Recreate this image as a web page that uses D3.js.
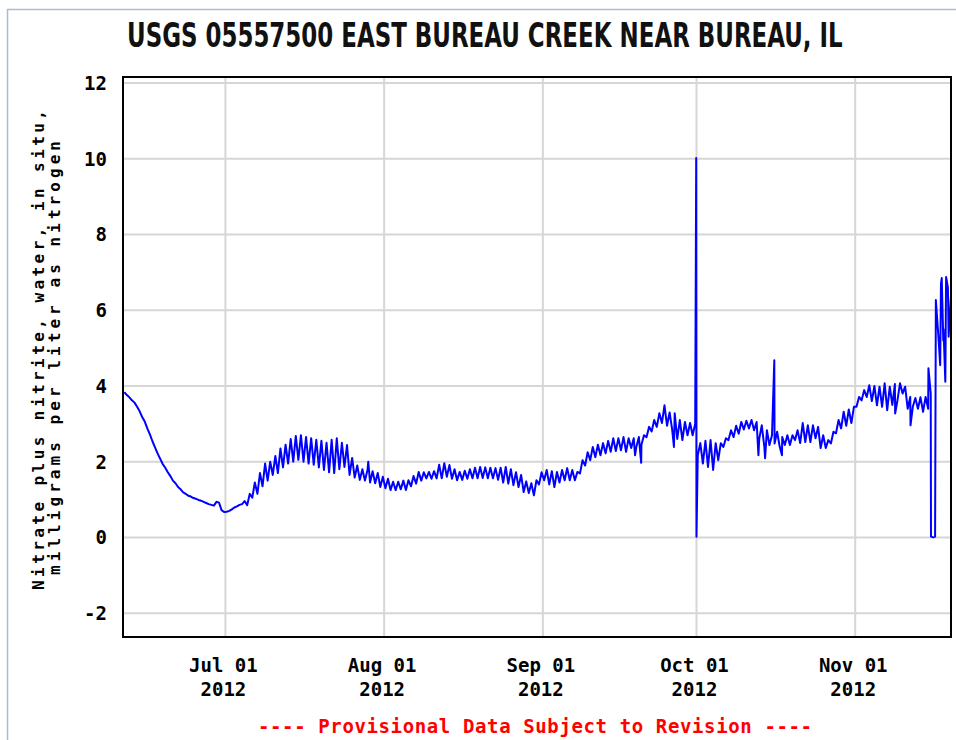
<!DOCTYPE html>
<html>
<head>
<meta charset="utf-8">
<script src="https://cdn.jsdelivr.net/npm/d3@7"></script>
<style>
  body { margin: 0; background: #fff; }
  svg { display: block; }
</style>
</head>
<body>
<script>
// series starts 2012-06-11, two readings per day (morning, evening)
const startDay = "2012-06-11";
const endTime = "2012-11-19T17:00:00Z";

const readingAM = [
  3.84, 3.70, 3.56, 3.33, 3.06, 2.72, 2.38, 2.08, 1.84, 1.62,
  1.43, 1.27, 1.15, 1.08, 1.02, 0.97, 0.91, 0.86, 0.94, 0.72,
  0.68, 0.74, 0.82, 0.88, 0.85, 1.05, 1.15, 1.35, 1.50, 1.65,
  1.70, 1.85, 1.95, 2.00, 2.05, 2.00, 1.95, 1.92, 1.85, 1.78,
  1.72, 1.70, 1.80, 1.86, 1.65, 1.58, 1.52, 1.50, 1.45, 1.43,
  1.33, 1.30, 1.25, 1.25, 1.27, 1.25, 1.35, 1.42, 1.50, 1.56,
  1.55, 1.56, 1.56, 1.60, 1.55, 1.51, 1.52, 1.55, 1.56, 1.56,
  1.57, 1.56, 1.56, 1.52, 1.45, 1.42, 1.38, 1.33, 1.20, 1.17,
  1.11, 1.40, 1.51, 1.40, 1.33, 1.45, 1.51, 1.51, 1.51, 1.69,
  1.90, 2.04, 2.12, 2.17, 2.22, 2.26, 2.28, 2.30, 2.26, 2.36,
  2.39, 2.45, 2.65, 2.80, 2.92, 3.02, 2.95, 2.85, 2.60, 2.57,
  2.70, 2.70, 2.17, 1.95, 1.86, 1.78, 2.04, 2.39, 2.57, 2.65,
  2.74, 2.85, 2.88, 2.83, 2.60, 2.40, 2.44, 2.48, 2.40, 2.44,
  2.44, 2.57, 2.49, 2.52, 2.52, 2.62, 2.36, 2.36, 2.48, 2.75,
  2.88, 2.95, 3.02, 3.45, 3.62, 3.71, 3.60, 3.49, 3.45, 3.36,
  3.50, 3.62, 3.80, 3.40, 3.45, 3.40, 3.32, 3.40, 0.00, 5.30,
  5.50, 5.30
];

const readingPM = [
  3.76, 3.62, 3.45, 3.18, 2.88, 2.54, 2.22, 1.94, 1.72, 1.50,
  1.33, 1.19, 1.10, 1.04, 0.99, 0.94, 0.88, 0.84, 0.92, 0.67,
  0.70, 0.79, 0.86, 0.96, 1.15, 1.45, 1.70, 1.95, 2.00, 2.15,
  2.35, 2.45, 2.60, 2.68, 2.70, 2.65, 2.62, 2.58, 2.55, 2.50,
  2.58, 2.62, 2.50, 2.44, 2.10, 1.90, 1.80, 1.78, 1.75, 1.70,
  1.60, 1.55, 1.47, 1.47, 1.50, 1.51, 1.62, 1.73, 1.72, 1.73,
  1.75, 1.92, 1.96, 1.91, 1.80, 1.73, 1.76, 1.80, 1.84, 1.86,
  1.85, 1.84, 1.83, 1.84, 1.86, 1.80, 1.72, 1.65, 1.48, 1.43,
  1.51, 1.72, 1.78, 1.75, 1.73, 1.78, 1.83, 1.78, 1.73, 2.04,
  2.25, 2.39, 2.45, 2.49, 2.55, 2.62, 2.62, 2.65, 2.62, 2.62,
  2.65, 2.70, 2.92, 3.10, 3.28, 3.49, 3.30, 3.28, 3.10, 3.05,
  3.02, 3.00, 2.49, 2.55, 2.57, 2.49, 2.49, 2.62, 2.83, 2.95,
  3.05, 3.08, 3.10, 3.05, 2.96, 2.83, 2.70, 2.79, 2.65, 2.70,
  2.70, 2.83, 3.02, 2.96, 2.96, 2.92, 2.70, 2.57, 2.79, 3.10,
  3.32, 3.38, 3.45, 3.71, 3.89, 4.02, 4.00, 3.98, 4.07, 3.98,
  4.05, 4.07, 3.98, 3.71, 3.68, 3.70, 3.71, 3.80, 6.27, 6.70,
  6.88, 6.50
];

// single readings off the daily pattern: [days after start, value]
const spikes = [
  [47.9, 2.00], [100.0, 2.17], [101.2, 1.97], [107.6, 2.39],
  [111.95, 10.02], [112.0, 0.02], [124.1, 2.17], [125.4, 2.09],
  [127.2, 4.68], [128.7, 2.17], [150.8, 3.27], [153.8, 2.96],
  [157.3, 4.47], [157.8, 0.02], [158.6, 0.02], [159.6, 4.55],
  [159.9, 6.85], [160.2, 5.20], [160.6, 4.11], [161.1, 6.60]
];

const yTicks = [-2, 0, 2, 4, 6, 8, 10, 12];
const xTickDates = ["2012-07-01", "2012-08-01", "2012-09-01", "2012-10-01", "2012-11-01"];
const xTickLabels = ["Jul 01", "Aug 01", "Sep 01", "Oct 01", "Nov 01"];

const title = "USGS 05557500 EAST BUREAU CREEK NEAR BUREAU, IL";
const yLabel = ["Nitrate plus nitrite, water, in situ,", "milligrams per liter as nitrogen"];
const note = "---- Provisional Data Subject to Revision ----";

const width = 956, height = 740;
const plot = {left: 123, top: 77, right: 951, bottom: 637};
const mono = "'DejaVu Sans Mono', 'Liberation Mono', monospace";

const t0 = new Date(startDay + "T00:00:00Z").getTime();
const day = 864e5;

let points = [];
readingAM.forEach((am, i) => {
  points.push({t: i + 0.25, v: am});
  points.push({t: i + 0.75, v: readingPM[i]});
});
spikes.forEach(s => points.push({t: s[0], v: s[1]}));
points.sort((a, b) => a.t - b.t);
points = points.map(p => ({date: new Date(t0 + p.t * day), v: p.v}));

const x = d3.scaleUtc()
  .domain([new Date(t0), new Date(endTime)])
  .range([plot.left, plot.right]);

const y = d3.scaleLinear()
  .domain([-2.63, 12.16])
  .range([plot.bottom, plot.top]);

const svg = d3.select("body").append("svg")
  .attr("width", width)
  .attr("height", height);

// outer border of the image
svg.append("path")
  .attr("d", `M7.5,${height}V9.5H${width}`)
  .attr("fill", "none")
  .attr("stroke", "#a9bcd2")
  .attr("stroke-width", 1.5);

// title, squeezed to the reference width
const titleText = svg.append("text")
  .attr("y", 47)
  .style("font-family", "'Liberation Sans Narrow', 'DejaVu Sans Condensed', 'Arial Narrow', sans-serif")
  .style("font-stretch", "condensed")
  .style("font-weight", "bold")
  .style("font-size", "34px")
  .attr("fill", "#111")
  .text(title);
const tw = titleText.node().getComputedTextLength();
titleText.attr("transform", `translate(127,0) scale(${716 / tw},1)`);

svg.append("defs").append("clipPath").attr("id", "clip")
  .append("rect")
  .attr("x", plot.left).attr("y", plot.top)
  .attr("width", plot.right - plot.left).attr("height", plot.bottom - plot.top);

// grid
const xDates = xTickDates.map(d => new Date(d + "T00:00:00Z"));
svg.append("g")
  .selectAll("line")
  .data(yTicks)
  .join("line")
  .attr("x1", plot.left).attr("x2", plot.right)
  .attr("y1", d => y(d)).attr("y2", d => y(d))
  .attr("stroke", "#d6d6d6")
  .attr("stroke-width", 2);

svg.append("g")
  .selectAll("line")
  .data(xDates)
  .join("line")
  .attr("x1", d => x(d)).attr("x2", d => x(d))
  .attr("y1", plot.top).attr("y2", plot.bottom)
  .attr("stroke", "#d6d6d6")
  .attr("stroke-width", 2);

// data
const line = d3.line()
  .x(d => x(d.date))
  .y(d => y(d.v));

svg.append("path")
  .datum(points)
  .attr("clip-path", "url(#clip)")
  .attr("fill", "none")
  .attr("stroke", "#0000ff")
  .attr("stroke-width", 2)
  .attr("stroke-linejoin", "round")
  .attr("d", line);

svg.append("rect")
  .attr("x", plot.left).attr("y", plot.top)
  .attr("width", plot.right - plot.left).attr("height", plot.bottom - plot.top)
  .attr("fill", "none")
  .attr("stroke", "#000")
  .attr("stroke-width", 2);

// y tick labels
svg.append("g")
  .selectAll("text")
  .data(yTicks)
  .join("text")
  .attr("x", 107)
  .attr("y", d => y(d))
  .attr("dy", "0.36em")
  .attr("text-anchor", "end")
  .style("font-family", mono)
  .style("font-weight", "bold")
  .style("font-size", "19px")
  .text(d => d);

// x tick labels, two lines
const xl = svg.append("g")
  .selectAll("text")
  .data(xDates)
  .join("text")
  .attr("text-anchor", "middle")
  .style("font-family", mono)
  .style("font-weight", "bold")
  .style("font-size", "19px");
xl.append("tspan")
  .attr("x", d => x(d) - 2)
  .attr("y", 672)
  .text((d, i) => xTickLabels[i]);
xl.append("tspan")
  .attr("x", d => x(d) - 2)
  .attr("y", 696)
  .text(d => d3.utcFormat("%Y")(d));

// y axis title
svg.append("text")
  .attr("transform", "translate(44,350) rotate(-90)")
  .attr("text-anchor", "middle")
  .attr("textLength", 480)
  .attr("lengthAdjust", "spacing")
  .style("font-family", mono)
  .style("font-weight", "bold")
  .style("font-size", "16px")
  .text(yLabel[0]);

svg.append("text")
  .attr("transform", "translate(60,358) rotate(-90)")
  .attr("text-anchor", "middle")
  .attr("textLength", 434)
  .attr("lengthAdjust", "spacing")
  .style("font-family", mono)
  .style("font-weight", "bold")
  .style("font-size", "16px")
  .text(yLabel[1]);

svg.append("text")
  .attr("x", 535)
  .attr("y", 733)
  .attr("text-anchor", "middle")
  .attr("textLength", 554)
  .attr("lengthAdjust", "spacing")
  .attr("fill", "#ff0000")
  .style("font-family", mono)
  .style("font-weight", "bold")
  .style("font-size", "19px")
  .text(note);
</script>
</body>
</html>
